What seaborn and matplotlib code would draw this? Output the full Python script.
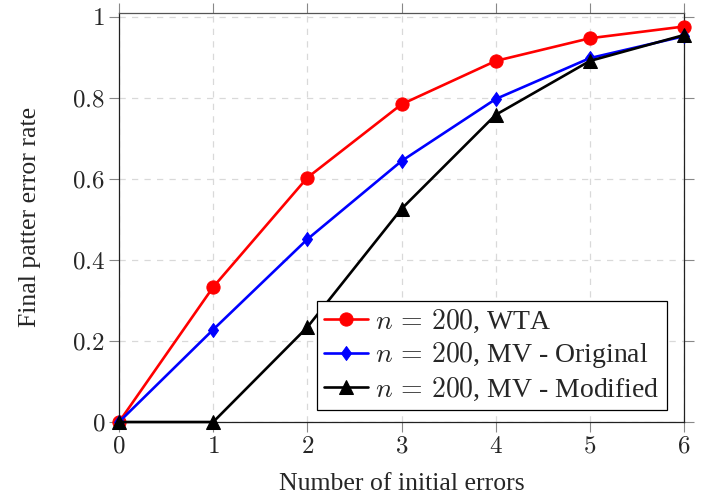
import matplotlib
matplotlib.use("Agg")
import matplotlib.pyplot as plt
import seaborn as sns
import pandas as pd

x_vals = [0, 1, 2, 3, 4, 5, 6]
wta = [0.0, 0.333, 0.603, 0.784, 0.891, 0.947, 0.976]
mv_original = [0.0, 0.228, 0.451, 0.644, 0.797, 0.898, 0.952]
mv_modified = [0.0, 0.0, 0.234, 0.526, 0.758, 0.891, 0.955]
labels = [r"$n\,=\,200$, WTA", r"$n\,=\,200$, MV - Original", r"$n\,=\,200$, MV - Modified"]
x_ticks = [0, 1, 2, 3, 4, 5, 6]
y_ticks = [0, 0.2, 0.4, 0.6, 0.8, 1.0]
y_tick_labels = ["0", "0.2", "0.4", "0.6", "0.8", "1"]

sns.set_style("white")
plt.rcParams["font.family"] = ["Liberation Serif", "DejaVu Serif"]
plt.rcParams["mathtext.fontset"] = "cm"

fig = plt.figure(figsize=(7.27, 4.99), dpi=100)
ax = fig.add_axes([0.1637, 0.1543, 0.7772, 0.8202])

diamond = [(0, 1), (0.72, 0), (0, -1), (-0.72, 0), (0, 1)]
series = [wta, mv_original, mv_modified]
colors = ["#ff0000", "#0000ff", "#000000"]
markers = ["o", diamond, "^"]
msizes = [9.5, 10, 9.5]
for vals, lab, c, m, ms in zip(series, labels, colors, markers, msizes):
    df = pd.DataFrame({"x": x_vals, "y": vals})
    sns.lineplot(data=df, x="x", y="y", ax=ax, color=c, marker=m, markersize=ms,
                 markeredgecolor=c, linewidth=1.9, label=lab, clip_on=False, zorder=3)

ax.set_xlim(0, 6)
ax.set_ylim(0, 1.01)
ax.set_xticks(x_ticks)
ax.set_xticklabels([f"${t}$" for t in x_ticks])
ax.set_yticks(y_ticks)
ax.set_yticklabels([f"${t}$" for t in y_tick_labels])
ax.grid(True, linestyle=(0, (5, 5)), color="#d9d9d9", linewidth=0.9)
ax.set_axisbelow(True)
ax.tick_params(axis="both", which="both", direction="out", length=7, width=0.8,
               color="#888888", labelsize=18, pad=3, top=True, right=True, bottom=True, left=True)
for sp in ax.spines.values():
    sp.set_visible(True)
    sp.set_color("#222222")
    sp.set_linewidth(0.9)
ax.spines["top"].set_color("#555555")

ax.set_xlabel("Number of initial errors", fontsize=18.5, labelpad=11)
ax.set_ylabel("Final patter error rate", fontsize=18.5, labelpad=22)

leg = ax.legend(loc="lower left", bbox_to_anchor=(0.350, 0.029), fontsize=20,
                frameon=True, fancybox=False, edgecolor="black", framealpha=1,
                handlelength=1.6, handletextpad=0.25, borderpad=0.25, labelspacing=0.2,
                borderaxespad=0)
leg.get_frame().set_linewidth(0.9)

fig.savefig("out.png", dpi=100)
